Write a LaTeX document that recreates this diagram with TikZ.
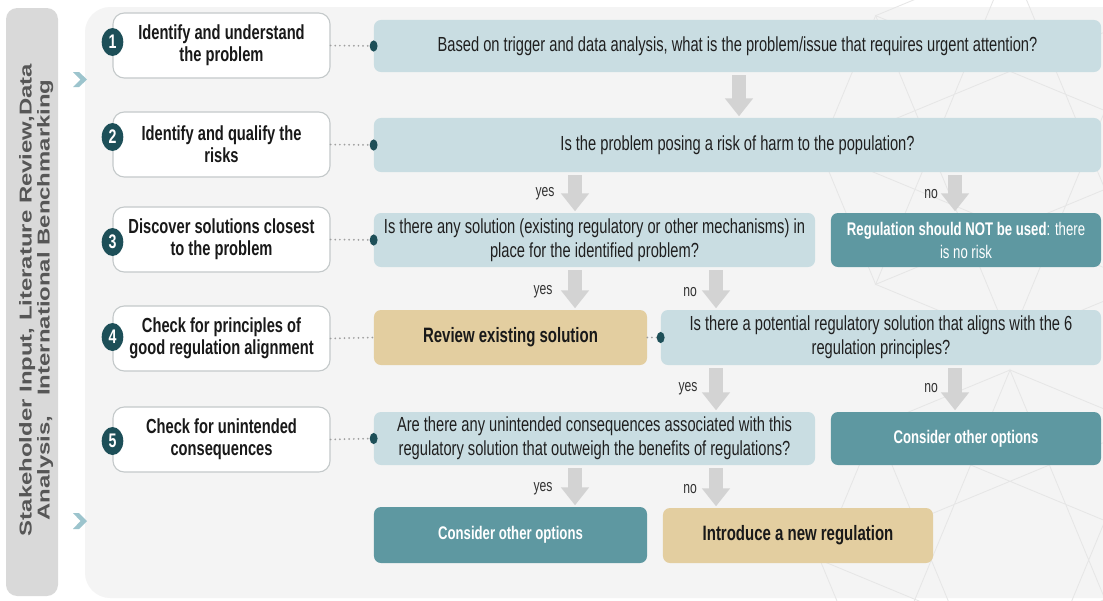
\documentclass[tikz,border=0pt]{standalone}
\usepackage{fontspec}
\setmainfont{Liberation Sans}[FakeStretch=0.72]
\newfontfamily\barfont{Liberation Sans}
\usetikzlibrary{arrows.meta,calc,shapes.geometric}
\definecolor{qblue}{HTML}{C9DDE2}
\definecolor{tealbox}{HTML}{5E98A1}
\definecolor{tanbox}{HTML}{E3CEA0}
\definecolor{badgecol}{HTML}{1D4F58}
\definecolor{arrowgray}{HTML}{D3D3D3}
\definecolor{panelbg}{HTML}{F4F4F4}
\definecolor{bargray}{HTML}{D9D9D9}
\definecolor{bartext}{HTML}{565656}
\definecolor{stepborder}{HTML}{C4C9CA}
\definecolor{chevcol}{HTML}{9CC4CD}
\definecolor{starline}{HTML}{E6E6E6}
\begin{document}
\begin{tikzpicture}[x=0.025cm,y=-0.025cm,
  stepbox/.style={draw=stepborder, line width=0.8pt, fill=white, rounded corners=8pt,
    minimum width=5.425cm, minimum height=1.625cm, inner sep=0pt, align=center,
    font=\bfseries\fontsize{14.5}{15.6}\selectfont, text=black!90},
  qbox/.style={fill=qblue, rounded corners=5pt, inner sep=0pt, align=center,
    font=\fontsize{14.5}{16.8}\selectfont, text=black!88},
  tealb/.style={fill=tealbox, rounded corners=5pt, inner sep=0pt, align=center,
    font=\fontsize{13}{16.3}\selectfont, text=white},
  tanb/.style={fill=tanbox, rounded corners=5pt, inner sep=0pt, align=center,
    font=\bfseries\fontsize{14.8}{16}\selectfont, text=black!90},
  badge/.style={ellipse, fill=badgecol, minimum width=0.54cm, minimum height=0.7cm,
    inner sep=0pt, text=white, font=\bfseries\fontsize{14}{14}\selectfont},
  bigarrow/.style={draw=arrowgray, line width=0.33cm,
    -{Triangle[width=0.68cm,length=0.45cm]}, shorten <=2pt, shorten >=1pt},
  lbl/.style={font=\fontsize{12}{12}\selectfont, text=black!80, inner sep=0pt},
  dotline/.style={draw=gray!75, line width=1.4pt, line cap=round, dash pattern=on 0pt off 3.3pt},
  enddot/.style={fill=badgecol}
]
\useasboundingbox (0,0) rectangle (1103,600);
% backgrounds
\fill[white] (0,0) rectangle (1103,600);
\fill[bargray, rounded corners=8pt] (6,8) rectangle (58,596);
\fill[panelbg, rounded corners=18pt] (85,7) rectangle (1130,598);
% faint star pattern
\begin{scope}[starline, line width=0.6pt]
  \foreach \cx/\cy/\r in {1010/150/190, 1010/560/190}{
    \draw ($(\cx,\cy)+(90:\r)$) \foreach \a in {135,180,...,450}{ -- ($(\cx,\cy)+(\a:\r)$)} ;
    \draw ($(\cx,\cy)+(90:\r)$) -- ($(\cx,\cy)+(225:\r)$) -- ($(\cx,\cy)+(0:\r)$) -- ($(\cx,\cy)+(135:\r)$) -- ($(\cx,\cy)+(270:\r)$) -- ($(\cx,\cy)+(45:\r)$) -- ($(\cx,\cy)+(180:\r)$) -- ($(\cx,\cy)+(315:\r)$) -- cycle;
  }
\end{scope}
% vertical bar text
\node[rotate=90, inner sep=0pt, text=bartext] (bartxt) at (37,300)
  {\scalebox{1}[0.72]{\barfont\bfseries\fontsize{17}{17.7}\selectfont
   \begin{tabular}{@{}c@{}}Stakeholder Input, Literature Review,Data\\ Analysis,\ \ \ International Benchmarking\end{tabular}}};
% chevrons
\fill[chevcol] (73,72) -- (79,72) -- (87,79.5) -- (79,87) -- (73,87) -- (80.5,79.5) -- cycle;
\fill[chevcol] (73,513) -- (79,513) -- (87,521) -- (79,529) -- (73,529) -- (80.5,521) -- cycle;
% step boxes
\node[stepbox] (s1) at (221.5,45.5) {Identify and understand\\the problem};
\node[stepbox] (s2) at (221.5,144.5) {Identify and qualify the\\risks};
\node[stepbox] (s3) at (221.5,239.5) {Discover solutions closest\\to the problem};
\node[stepbox] (s4) at (221.5,338.5) {Check for principles of\\good regulation alignment};
\node[stepbox] (s5) at (221.5,439.5) {Check for unintended\\consequences};
% badges
\node[badge] (b1) at (112.5,42) {1};
\node[badge] (b2) at (112.5,137) {2};
\node[badge] (b3) at (112.5,242) {3};
\node[badge] (b4) at (112.5,337) {4};
\node[badge] (b5) at (112.5,441) {5};
% right column boxes
\node[qbox, minimum width=18.175cm, minimum height=1.3cm] (q1) at (737.5,46)
  {Based on trigger and data analysis, what is the problem/issue that requires urgent attention?};
\node[qbox, minimum width=18.175cm, minimum height=1.35cm] (q2) at (737.5,145)
  {Is the problem posing a risk of harm to the population?};
\node[qbox, minimum width=11.025cm, minimum height=1.35cm] (q3) at (594.5,240)
  {Is there any solution (existing regulatory or other mechanisms) in\\place for the identified problem?};
\node[tealb, minimum width=6.75cm, minimum height=1.35cm] (nreg) at (966,240)
  {\textbf{Regulation should NOT be used}: there\\is no risk};
\node[tanb, minimum width=6.825cm, minimum height=1.375cm] (rev) at (510.5,337.5)
  {Review existing solution};
\node[qbox, minimum width=11cm, minimum height=1.375cm] (q4) at (881,337.5)
  {Is there a potential regulatory solution that aligns with the 6\\regulation principles?};
\node[qbox, minimum width=11.025cm, minimum height=1.325cm] (q5) at (594.5,438.5)
  {Are there any unintended consequences associated with this\\regulatory solution that outweigh the benefits of regulations?};
\node[tealb, minimum width=6.75cm, minimum height=1.325cm, font=\bfseries\fontsize{13}{16}\selectfont] (c1) at (966,438.5)
  {Consider other options};
\node[tealb, minimum width=6.825cm, minimum height=1.4cm, font=\bfseries\fontsize{13}{16}\selectfont] (c2) at (510.5,535)
  {Consider other options};
\node[tanb, minimum width=6.75cm, minimum height=1.375cm] (intro) at (798,535.5)
  {Introduce a new regulation};
% column coordinates
\coordinate (colA) at (575,0);
\coordinate (colB) at (716,0);
\coordinate (colC) at (955,0);
\coordinate (colQ) at (739,0);
% dotted connectors
\draw[dotline] (s1.east) -- (q1.west);
\draw[dotline] (s2.east) -- (q2.west);
\draw[dotline] (s3.east) -- (q3.west);
\draw[dotline] (s4.east) -- (rev.west);
\draw[dotline] (rev.east) -- (q4.west);
\draw[dotline] (s5.east) -- (q5.west);
\foreach \n in {q1,q2,q3,q4,q5}{
  \fill[enddot] (\n.west) ellipse [x radius=2.8pt, y radius=4pt];
}
% block arrows
\draw[bigarrow] (q1.south -| colQ) -- (q2.north -| colQ);
\draw[bigarrow] (q2.south -| colA) -- (q3.north -| colA);
\draw[bigarrow] (q2.south -| colC) -- (nreg.north -| colC);
\draw[bigarrow] (q3.south -| colA) -- (rev.north -| colA);
\draw[bigarrow] (q3.south -| colB) -- (q4.north -| colB);
\draw[bigarrow] (q4.south -| colB) -- (q5.north -| colB);
\draw[bigarrow] (q4.south -| colC) -- (c1.north -| colC);
\draw[bigarrow] (q5.south -| colA) -- (c2.north -| colA);
\draw[bigarrow] (q5.south -| colB) -- (intro.north -| colB);
% labels
\node[lbl] (l1) at (545,194) {yes};
\node[lbl] (l2) at (931,194) {no};
\node[lbl] (l3) at (543,292) {yes};
\node[lbl] (l4) at (690,292) {no};
\node[lbl] (l5) at (688,389) {yes};
\node[lbl] (l6) at (931,388) {no};
\node[lbl] (l7) at (543,489) {yes};
\node[lbl] (l8) at (690,489) {no};
\end{tikzpicture}
\end{document}
